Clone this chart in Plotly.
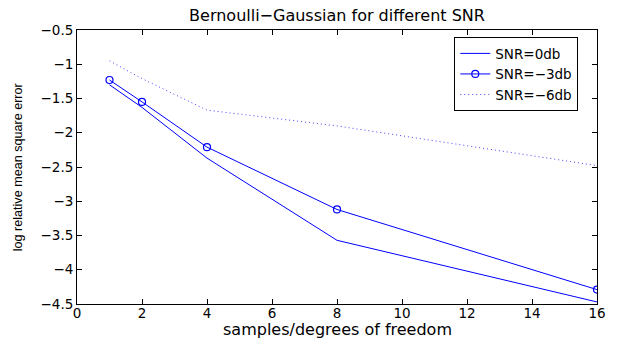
import plotly.graph_objects as go

samples = [1, 2, 4, 8, 16]
snr_0db = [-1.30, -1.63, -2.37, -3.57, -4.47]
snr_m3db = [-1.23, -1.55, -2.21, -3.12, -4.29]
snr_m6db = [-0.95, -1.21, -1.67, -1.90, -2.48]
series_names = ["SNR=0db", "SNR=\u22123db", "SNR=\u22126db"]
x_ticks = [0, 2, 4, 6, 8, 10, 12, 14, 16]
y_ticks = [-4.5, -4, -3.5, -3, -2.5, -2, -1.5, -1, -0.5]

FONT = "DejaVu Sans"
BLUE = "rgb(0,0,255)"

fig = go.Figure()
fig.add_trace(go.Scatter(x=samples, y=snr_0db, mode="lines", name=series_names[0],
                         line=dict(color=BLUE, width=1)))
fig.add_trace(go.Scatter(x=samples, y=snr_m3db, mode="lines+markers", name=series_names[1],
                         line=dict(color=BLUE, width=1),
                         marker=dict(symbol="circle-open", size=7, color=BLUE, line=dict(width=1.2))))
fig.add_trace(go.Scatter(x=samples, y=snr_m6db, mode="lines", name=series_names[2],
                         line=dict(color="rgb(70,70,255)", width=1, dash="1px,3px")))

axis_common = dict(showgrid=False, zeroline=False, showline=True, linecolor="black",
                   linewidth=1, mirror="ticks", ticks="inside", ticklen=5,
                   tickcolor="black", tickfont=dict(family=FONT, size=13.5, color="black"),
                   automargin=False)

fig.update_layout(
    width=621, height=338,
    margin=dict(l=69, r=32, t=22, b=42),
    plot_bgcolor="white", paper_bgcolor="white",
    title=dict(text="Bernoulli\u2212Gaussian for different SNR", x=0.5, xref="paper",
               y=1 - 2 / 338, yanchor="top", pad=dict(t=0, b=0),
               font=dict(family=FONT, size=16, color="black")),
    xaxis=dict(range=[0, 16], tickvals=x_ticks, ticklabelstandoff=-3, **axis_common),
    yaxis=dict(range=[-4.5, -0.5], tickvals=y_ticks, **axis_common),
    legend=dict(x=0.964, y=0.974, xanchor="right", yanchor="top",
                bgcolor="white", bordercolor="black", borderwidth=1,
                font=dict(family=FONT, size=13.5, color="black"),
                tracegroupgap=0),
    showlegend=True,
    annotations=[
        dict(text="samples/degrees of freedom", xref="paper", yref="paper",
             x=0.5, y=-0.092, xanchor="center", yanchor="middle", showarrow=False,
             font=dict(family=FONT, size=16, color="black")),
        dict(text="log relative mean square error", xref="paper", yref="paper",
             x=-0.113, y=0.5, xanchor="center", yanchor="middle", showarrow=False,
             textangle=-90,
             font=dict(family="Liberation Sans", size=12.6, color="black")),
    ],
)

fig.write_html("out.html")
